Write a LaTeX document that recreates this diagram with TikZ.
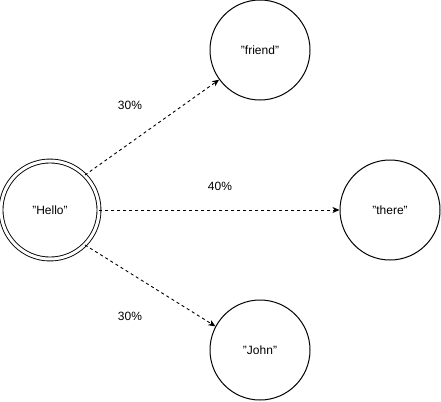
\documentclass[tikz,border=0pt]{standalone}
\usepackage{fontspec}
\setmainfont{Liberation Sans}
\usetikzlibrary{arrows.meta}
\begin{document}
\begin{tikzpicture}[x=1pt,y=-1pt,
  state/.style={circle,draw=black,line width=1pt,minimum size=100pt,inner sep=0pt,font=\fontsize{12}{14}\selectfont},
  accept/.style={state,double=white,double distance=3pt,line width=0.9pt,minimum size=98pt},
  trans/.style={dashed,dash pattern=on 3pt off 3pt,line width=0.9pt,-{Stealth[length=7pt,width=6pt,inset=2pt]}},
  lbl/.style={font=\fontsize{12}{14}\selectfont,inner sep=0pt}]
\useasboundingbox (0,0) rectangle (441,401);
\node[accept] (hello) at (50,210) {"Hello"};
\node[state] (friend) at (260,50) {"friend"};
\node[state] (there) at (390,210) {"there"};
\node[state] (john) at (260,350) {"John"};
\draw[trans] (hello.45) -- (friend.216);
\draw[trans] (hello.east) -- (there.west);
\draw[trans] (hello.-45) -- (john.152);
\node[lbl] (l1) at (130,105) {30\%};
\node[lbl] (l2) at (220,186) {40\%};
\node[lbl] (l3) at (130,316) {30\%};
\end{tikzpicture}
\end{document}
